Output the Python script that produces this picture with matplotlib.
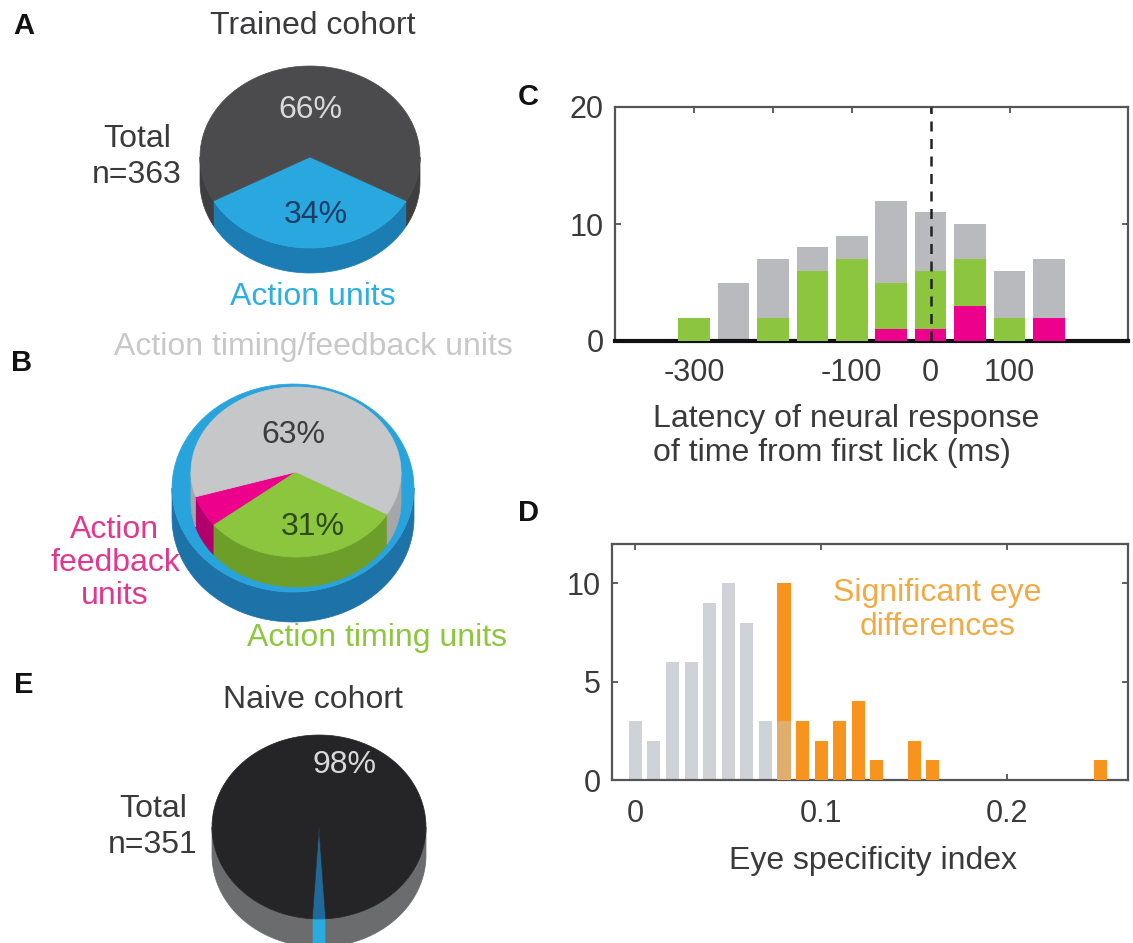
import numpy as np
import matplotlib
matplotlib.use('Agg')
import matplotlib.pyplot as plt
from matplotlib.patches import Polygon

plt.rcParams['font.family'] = ['Liberation Sans', 'DejaVu Sans']
TXT = '#3a3a3c'

# Unit fractions (percent) for the three pies
trained_pct = [34, 66]          # action units, other
trained_n = 363
action_pct = [6, 31, 63]        # feedback, timing, timing/feedback
naive_pct = [2, 98]             # action units, other
naive_n = 351

# C: latency histogram (ms bin centres, counts)
latency_bins = [-300, -250, -200, -150, -100, -50, 0, 50, 100, 150]
latency_all = [0, 5, 7, 8, 9, 12, 11, 10, 6, 7]
latency_timing = [2, 0, 2, 6, 7, 5, 6, 7, 2, 0]
latency_feedback = [0, 0, 0, 0, 0, 1, 1, 3, 0, 2]

# D: eye specificity index histogram
esi_bins = [0.00, 0.01, 0.02, 0.03, 0.04, 0.05, 0.06, 0.07, 0.08]
esi_counts = [3, 2, 6, 6, 9, 10, 8, 3, 3]
esi_sig_bins = [0.08, 0.09, 0.10, 0.11, 0.12, 0.13, 0.15, 0.16, 0.25]
esi_sig_counts = [10, 3, 2, 3, 4, 1, 2, 1, 1]

W, H = 1133, 943
fig = plt.figure(figsize=(W / 100, H / 100), dpi=100)


def px_axes(l, t, r, b):
    return fig.add_axes([l / W, 1 - b / H, (r - l) / W, (b - t) / H])


def style_axes(ax):
    for s in ax.spines.values():
        s.set_color('#555557')
        s.set_linewidth(1.6)
    ax.tick_params(direction='in', length=4, width=1.2, top=True, right=True,
                   labelsize=22, labelcolor=TXT, color='#444446')


# ---- C: latency of neural response
axc = px_axes(615, 107, 1128, 341)
style_axes(axc)
axc.bar(latency_bins, latency_all, width=40, color='#b9babd', zorder=2)
axc.bar(latency_bins, latency_timing, width=40, color='#8cc63f', zorder=3)
axc.bar(latency_bins, latency_feedback, width=40, color='#ec008c', zorder=4)
axc.axvline(0, color='#222222', ls=(0, (4, 3)), lw=1.8, zorder=5)
axc.spines['bottom'].set_color('#111111')
axc.spines['bottom'].set_linewidth(3)
axc.set_xlim(-400, 250)
axc.set_ylim(0, 20)
axc.set_xticks([-300, -200, -100, 0, 100])
axc.set_xticklabels(['-300', '', '-100', '0', '100'])
axc.set_yticks([0, 10, 20])
axc.tick_params(axis='x', pad=12)
axc.tick_params(axis='y', pad=8)
axc.set_xlabel('Latency of neural response\nof time from first lick (ms)',
               fontsize=23, color=TXT, linespacing=1.15, ha='center',
               multialignment='left')
axc.xaxis.set_label_coords(0.45, -0.27)

# ---- D: eye specificity index
axd = px_axes(612, 544, 1128, 780)
style_axes(axd)
axd.bar(esi_bins, esi_counts, width=0.007, color='#cfd3d8', zorder=2)
axd.bar(esi_sig_bins, esi_sig_counts, width=0.007, color='#f7941d', zorder=3)
# overlapping bins: let the grey show through the orange
both = [b for b in esi_bins if b in esi_sig_bins]
axd.bar(both, [esi_counts[esi_bins.index(b)] for b in both], width=0.007,
        color='#c8ccd2', alpha=0.45, zorder=4)
axd.set_xlim(-0.0125, 0.265)
axd.set_ylim(0, 12)
axd.set_xticks([0, 0.1, 0.2])
axd.set_xticklabels(['0', '0.1', '0.2'])
axd.set_yticks([0, 5, 10])
axd.tick_params(axis='x', pad=14)
axd.tick_params(axis='y', pad=8)
axd.set_xlabel('Eye specificity index', fontsize=23, color=TXT)
axd.xaxis.set_label_coords(0.505, -0.28)
axd.text(0.63, 0.72, 'Significant eye\ndifferences', transform=axd.transAxes,
         ha='center', va='center', fontsize=23, color='#f2aa45',
         linespacing=1.15)

# ---- pies drawn on a pixel-space overlay
ov = fig.add_axes([0, 0, 1, 1])
ov.set_xlim(0, W)
ov.set_ylim(H, 0)
ov.axis('off')


def pie3d(cx, cy, a, b, depth, pct, start, tops, sides):
    edges = start + 3.6 * np.concatenate([[0], np.cumsum(pct)])
    # front rim (lower half of the ellipse) gets an extruded side
    for i in range(len(pct)):
        t1, t2 = edges[i], edges[i + 1]
        for k in range(-1, 3):
            lo, hi = max(t1, 180 + 360 * k), min(t2, 360 + 360 * k)
            if hi > lo:
                t = np.radians(np.linspace(lo, hi, 80))
                x = cx + a * np.cos(t)
                y = cy - b * np.sin(t)
                pts = np.column_stack([np.r_[x, x[::-1]],
                                       np.r_[y, y[::-1] + depth]])
                ov.add_patch(Polygon(pts, closed=True, fc=sides[i],
                                     ec=sides[i], lw=0.5))
    for i in range(len(pct)):
        t = np.radians(np.linspace(edges[i], edges[i + 1], 120))
        x = np.r_[cx, cx + a * np.cos(t)]
        y = np.r_[cy, cy - b * np.sin(t)]
        ov.add_patch(Polygon(np.column_stack([x, y]), closed=True,
                             fc=tops[i], ec=tops[i], lw=0.5))


# A: trained cohort
pie3d(310, 157, 110, 91, 25, trained_pct, 270 - trained_pct[0] * 1.8,
      ['#29a8e0', '#4b4b4d'], ['#1b7db4', '#3f3f41'])
ov.text(313, 26, 'Trained cohort', ha='center', va='center', fontsize=23, color=TXT)
ov.text(137, 157, 'Total\nn=%d' % trained_n, ha='center', va='center',
        fontsize=23, color=TXT, linespacing=1.3)
ov.text(310, 110, '%d%%' % trained_pct[1], ha='center', va='center',
        fontsize=23, color='#d9d9d9')
ov.text(316, 215, '%d%%' % trained_pct[0], ha='center', va='center',
        fontsize=23, color='#1d3c63')
ov.text(313, 297, 'Action units', ha='center', va='center', fontsize=23,
        color='#2eaee3')

# B: breakdown of action units
pie3d(293, 488, 121, 104, 30, [100], 0, ['#29a3dc'], ['#1d72a8'])
pie3d(296, 472, 105, 85, 30, action_pct, 197,
      ['#ec008c', '#8cc63f', '#c6c7c9'], ['#b2006a', '#6e9e2a', '#a5a6a8'])
ov.text(313, 347, 'Action timing/feedback units', ha='center', va='center',
        fontsize=23, color='#c8c8c8')
ov.text(293, 435, '%d%%' % action_pct[2], ha='center', va='center',
        fontsize=23, color='#3c3c3e')
ov.text(313, 527, '%d%%' % action_pct[1], ha='center', va='center',
        fontsize=23, color='#2d4a12')
ov.text(115, 563, 'Action\nfeedback\nunits', ha='center', va='center',
        fontsize=23, color='#e0388f', linespacing=1.15)
ov.text(377, 638, 'Action timing units', ha='center', va='center',
        fontsize=23, color='#8dc63f')

# E: naive cohort
pie3d(319, 827, 107, 92, 28, naive_pct, 270 - naive_pct[0] * 1.8,
      ['#1f6a9a', '#252527'], ['#29abe2', '#6b6c6e'])
ov.text(313, 700, 'Naive cohort', ha='center', va='center', fontsize=23, color=TXT)
ov.text(153, 827, 'Total\nn=%d' % naive_n, ha='center', va='center',
        fontsize=23, color=TXT, linespacing=1.3)
ov.text(345, 765, '%d%%' % naive_pct[1], ha='center', va='center',
        fontsize=23, color='#d9d9d9')

# panel letters
for lab, x, y in [('A', 24, 26), ('B', 22, 363), ('C', 528, 97),
                  ('D', 528, 513), ('E', 24, 685)]:
    ov.text(x, y, lab, ha='center', va='center', fontsize=21,
            fontweight='bold', color='#111111')

fig.savefig('out.png', dpi=100)
